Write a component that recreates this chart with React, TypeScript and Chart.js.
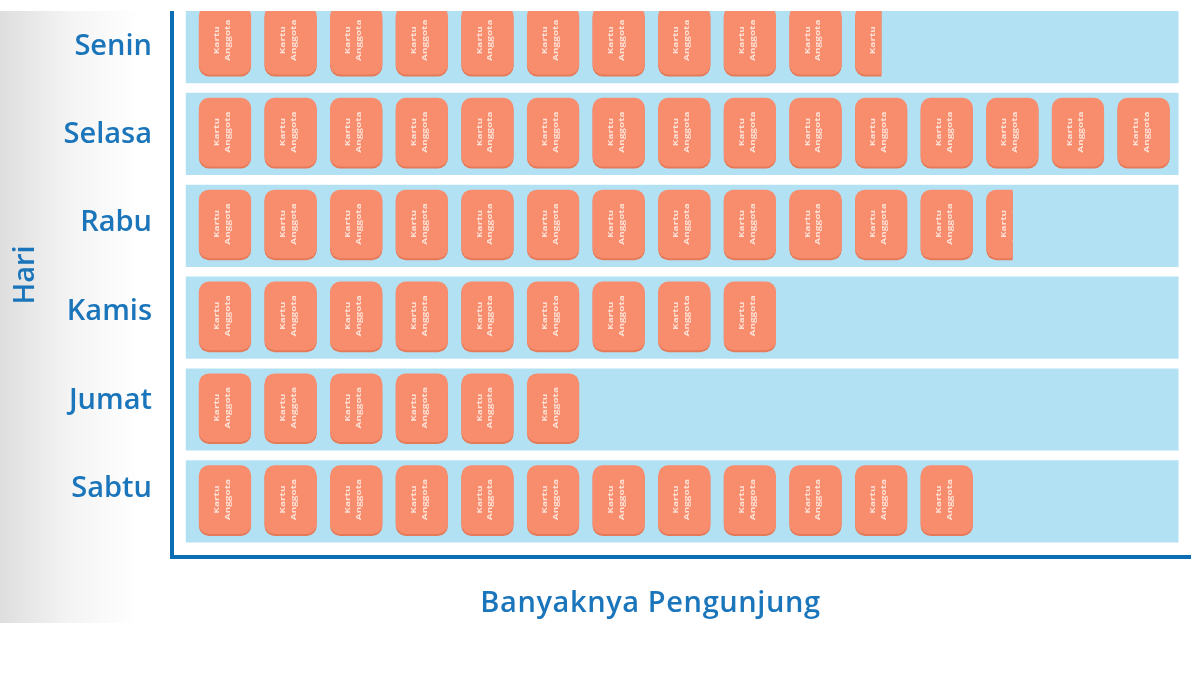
import React, { useEffect, useRef } from "react";
import { Chart, registerables } from "chart.js";

Chart.register(...registerables);

const days = ["Senin", "Selasa", "Rabu", "Kamis", "Jumat", "Sabtu"];
const labelRows = [0.05, 1.01, 1.97, 2.93, 3.9, 4.86];
const visitors = [10.5, 15, 12.5, 9, 6, 12];
const bandRange = [-0.1, 15.02];
const cardStart = 0.1;
const cardSpan = 0.785;
const cardRowOffset = -0.02;
const xTitle = "Banyaknya Pengunjung";
const yTitle = "Hari";
const cardWords = ["Kartu", "Anggota"];

const BLUE = "#1b75bb";
const AXIS = "#0b6db3";
const FONT = '"Open Sans", "Noto Sans", sans-serif';
const maxCards = Math.ceil(Math.max(...visitors));

function cardData(i: number) {
  return visitors.map((v, r) => {
    if (v <= i) return { x: null, y: r + cardRowOffset };
    const f = Math.min(1, v - i);
    return { x: [i + cardStart, i + cardStart + cardSpan * f], y: r + cardRowOffset };
  });
}

const pictoPlugin = {
  id: "picto",
  beforeDatasetDraw(chart: any, args: any) {
    if (args.index === 0) return;
    const ctx = chart.ctx;
    ctx.save();
    ctx.shadowColor = "#e57a58";
    ctx.shadowOffsetY = 2 * (chart.currentDevicePixelRatio || 1);
    ctx.shadowBlur = 0;
  },
  afterDatasetDraw(chart: any, args: any) {
    if (args.index === 0) return;
    const ctx = chart.ctx;
    ctx.restore();
    const i = args.index - 1;
    const xs = chart.scales.x;
    const meta = chart.getDatasetMeta(args.index);
    meta.data.forEach((el: any, r: number) => {
      if (visitors[r] <= i) return;
      const p = el.getProps(["x", "y", "base", "height"], true);
      const cx = xs.getPixelForValue(i + cardStart + cardSpan / 2);
      ctx.save();
      ctx.beginPath();
      const a = chart.chartArea;
      ctx.rect(p.base, Math.max(a.top, p.y - p.height / 2), p.x - p.base, p.height);
      ctx.clip();
      ctx.translate(cx, p.y);
      ctx.rotate(-Math.PI / 2);
      ctx.scale(1, 0.72);
      ctx.fillStyle = "rgba(255,240,232,0.85)";
      ctx.textAlign = "center";
      ctx.textBaseline = "middle";
      ctx.font = `700 10px ${FONT}`;
      ctx.fillText(cardWords[0], 0, -11);
      ctx.fillText(cardWords[1], 0, 4);
      ctx.restore();
    });
  },
  afterDraw(chart: any) {
    const ctx = chart.ctx;
    ctx.save();
    ctx.fillStyle = BLUE;
    ctx.textAlign = "center";
    ctx.textBaseline = "middle";
    ctx.font = `600 29px ${FONT}`;
    (ctx as any).letterSpacing = "0.6px";
    ctx.fillText(xTitle, 650.5, 593);
    ctx.translate(26, 264);
    ctx.rotate(-Math.PI / 2);
    (ctx as any).letterSpacing = "0px";
    ctx.fillText(yTitle, 0, 0);
    ctx.restore();
  },
};

export default function App() {
  const ref = useRef<HTMLCanvasElement>(null);
  useEffect(() => {
    const cardSets = Array.from({ length: maxCards }, (_, i) => ({
      label: "Kartu Anggota " + (i + 1),
      data: cardData(i),
      backgroundColor: "#f88d6e",
      barThickness: 68,
      grouped: false,
      order: 0,
      borderSkipped: false,
      borderRadius: (c: any) => {
        const v = visitors[c.dataIndex];
        const partial = v - i < 1;
        return partial
          ? { topLeft: 10, bottomLeft: 10, topRight: 0, bottomRight: 0 }
          : 10;
      },
    }));
    const chart = new Chart(ref.current as HTMLCanvasElement, {
      type: "bar",
      data: {
        labels: days,
        datasets: [
          {
            label: "Latar",
            data: days.map((_, r) => ({ x: bandRange, y: r })),
            backgroundColor: "#b3e1f4",
            barThickness: 81.5,
            grouped: false,
            order: 1,
          },
          ...cardSets,
        ] as any,
      },
      options: {
        indexAxis: "y",
        animation: false,
        responsive: false,
        devicePixelRatio: 1,
        layout: { padding: { left: 0, right: 10, top: 0, bottom: 0 } },
        plugins: { legend: { display: false }, tooltip: { enabled: false } },
        scales: {
          x: {
            type: "linear",
            min: -0.315,
            max: 15.2,
            grid: { display: false, drawTicks: false },
            border: { color: AXIS, width: 4 },
            ticks: { display: false },
            afterFit: (s: any) => { s.height = 66; },
          },
          y: {
            type: "linear",
            reverse: true,
            offset: false,
            min: -0.338,
            max: 5.605,
            grid: { display: false, drawTicks: false, offset: false },
            border: { color: AXIS, width: 4 },
            afterBuildTicks: (s: any) => { s.ticks = labelRows.map((value) => ({ value })); },
            ticks: {
              color: BLUE,
              padding: 20,
              font: { family: FONT, size: 29, weight: 600 },
              callback: (_v: any, i: number) => days[i],
            },
            afterFit: (s: any) => { s.width = 172; s.paddingTop = 0; s.paddingBottom = 0; },
          },
        },
      } as any,
      plugins: [pictoPlugin],
    });
    return () => chart.destroy();
  }, []);
  return (
    <div
      style={{
        position: "absolute",
        left: 0,
        top: 11,
        width: 1200,
        height: 612,
        background: "linear-gradient(90deg, #dedede 0px, #f4f4f4 70px, #ffffff 140px)",
      }}
    >
      <canvas ref={ref} width={1200} height={612} style={{ display: "block", filter: "blur(0.7px)" }} />
    </div>
  );
}
